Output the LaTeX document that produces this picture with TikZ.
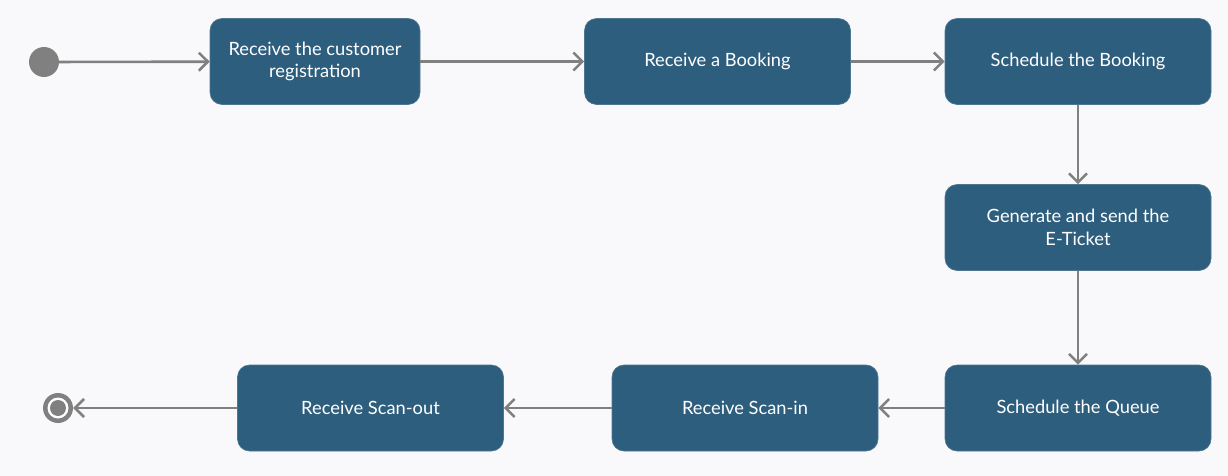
\documentclass[tikz,border=0pt]{standalone}
\usepackage{fontspec}
\setmainfont{Lato}
\usetikzlibrary{arrows.meta}
\definecolor{bg}{HTML}{F9F9FB}
\definecolor{boxc}{HTML}{2E5E7E}
\definecolor{linec}{HTML}{808080}
\tikzset{
  act/.style={rectangle, rounded corners=12pt, fill=boxc, draw=boxc!85!white, line width=0.6pt,
    minimum width=266pt, minimum height=86pt, text=white, align=center,
    font=\fontsize{18.3}{22.5}\selectfont, inner sep=0pt},
  flow/.style={draw=linec, line width=2.6pt, -{Straight Barb[length=9pt,width=18pt,line width=2.6pt]}},
}
\begin{document}
\begin{tikzpicture}[x=1pt,y=-1pt]
\fill[bg] (0,0) rectangle (1228,476);
\useasboundingbox (0,0) rectangle (1228,476);
\node[circle, fill=linec, minimum size=30pt, inner sep=0pt] (start) at (44,62) {};
\node[act, minimum width=210pt] (b1) at (315,61.5) {Receive the customer\\registration};
\node[act] (b2) at (717.5,61.5) {Receive a Booking};
\node[act] (b3) at (1078,61.5) {Schedule the Booking};
\node[act] (b4) at (1078,227.5) {Generate and send the\\E-Ticket};
\node[act] (b5) at (1078,408) {Schedule the Queue};
\node[act] (b6) at (745,408) {Receive Scan-in};
\node[act] (b7) at (370.5,408) {Receive Scan-out};
\node[circle, fill=linec, minimum size=30pt, inner sep=0pt] (end) at (58,408) {};
\fill[white] (end.center) circle (10.5pt);
\fill[linec] (end.center) circle (8pt);
\draw[flow] (start) -- (b1);
\draw[flow] (b1) -- (b2);
\draw[flow] (b2) -- (b3);
\draw[flow] (b3) -- (b4);
\draw[flow] (b4) -- (b5);
\draw[flow] (b5) -- (b6);
\draw[flow] (b6) -- (b7);
\draw[flow] (b7) -- (end);
\end{tikzpicture}
\end{document}
